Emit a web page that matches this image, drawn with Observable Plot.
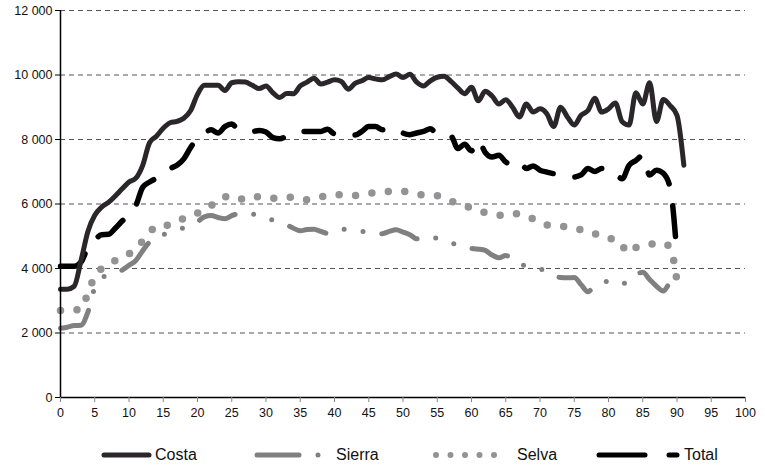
<!DOCTYPE html>
<html><head><meta charset="utf-8">
<script src="https://cdn.jsdelivr.net/npm/d3@7"></script>
<script src="https://cdn.jsdelivr.net/npm/@observablehq/plot@0.6"></script>
<style>
body{margin:0;background:#fff;font-family:"Liberation Sans",Arial,sans-serif;}
#wrap{position:relative;width:765px;height:466px;overflow:hidden;}
#legend{position:absolute;left:0;top:444px;width:765px;height:22px;}
.item{position:absolute;top:0;height:22px;display:flex;align-items:center;font-size:16px;color:#111;font-family:"Liberation Sans Narrow","Liberation Sans",Arial,sans-serif;}
.item svg{display:block;}
</style></head><body>
<div id="wrap"><div id="chart"></div><div id="legend"></div></div>
<script>
// x = index (0, 1, 2, ...)
const costa = [3360,3360,3450,4250,5150,5650,5900,6050,6250,6470,
  6680,6800,7200,7900,8100,8350,8520,8560,8660,8900,
  9400,9680,9680,9680,9520,9760,9790,9780,9680,9580,
  9660,9450,9300,9430,9420,9660,9780,9900,9720,9780,
  9850,9800,9560,9740,9820,9920,9880,9850,9950,10030,
  9920,10020,9780,9660,9820,9930,9960,9800,9600,9420,
  9620,9200,9500,9350,9100,9230,9000,8700,9100,8850,
  8950,8800,8400,9000,8700,8450,8750,8900,9280,8850,
  8950,9130,8550,8450,9450,9100,9760,8560,9240,9050,
  8750,7200];
const sierra = [2150,2180,2230,2240,2650,3400,3700,3800,3870,3950,
  4100,4250,4550,4820,4980,5050,5120,5190,5260,5340,
  5450,5600,5640,5580,5540,5640,5700,5730,5700,5600,
  5570,5500,5430,5350,5250,5170,5210,5220,5150,5090,
  5150,5220,5200,5170,5150,5110,5070,5080,5150,5200,
  5130,5050,4920,4950,4990,4930,4870,4800,4720,4640,
  4620,4600,4560,4420,4330,4400,4300,4120,4090,4070,
  4000,3880,3760,3720,3710,3720,3500,3280,3480,3560,
  3600,3550,3500,3700,3820,3880,3660,3450,3300,3550,
  3600];
const selva = [2700,2710,2720,2730,3240,3750,4000,4150,4250,4330,
  4450,4650,4850,5100,5320,5340,5350,5450,5550,5630,
  5720,5800,5950,6150,6220,6260,6200,6120,6180,6230,
  6210,6180,6190,6210,6200,6170,6130,6170,6220,6250,
  6270,6290,6280,6260,6290,6330,6350,6370,6390,6390,
  6390,6360,6310,6280,6270,6260,6200,6100,6000,5940,
  5880,5800,5730,5690,5650,5690,5710,5680,5640,5540,
  5450,5350,5340,5320,5280,5230,5200,5160,5080,4960,
  4930,4910,4700,4480,4650,4720,4750,4780,4780,4650,
  3600];
const total = [4070,4070,4070,4200,4650,4880,5050,5060,5250,5470,
  5650,5950,6520,6680,6800,6950,7100,7200,7400,7750,
  8050,8200,8300,8200,8400,8480,8300,8270,8250,8280,
  8230,8060,8020,8100,8180,8250,8250,8250,8250,8320,
  8180,8200,8180,8140,8250,8400,8400,8300,8300,8330,
  8200,8150,8200,8250,8330,8150,8080,8100,7720,7850,
  7650,7980,7600,7460,7510,7300,7220,7320,7100,7180,
  7050,6990,6940,6900,6870,6840,6900,7100,7010,7100,
  7100,6950,6780,7200,7350,7500,6900,7050,6950,6500,
  4400];
const seriesNames = ["Costa","Sierra","Selva","Total"];
const xTicks = [0,5,10,15,20,25,30,35,40,45,50,55,60,65,70,75,80,85,90,95,100];
const yTicks = [0,2000,4000,6000,8000,10000,12000];

const colors = {Costa:"#2b2629", Sierra:"#808080", Selva:"#939395", Total:"#000000"};
const styles = {
  Costa:{strokeWidth:5, strokeDasharray:null},
  Sierra:{strokeWidth:5, strokeDasharray:"38,19,0,19,0,19"},
  Selva:{strokeWidth:7.5, strokeDasharray:"0,16.5"},
  Total:{strokeWidth:5.5, strokeDasharray:"31,22"}
};
const dataBy = {Costa:costa, Sierra:sierra, Selva:selva, Total:total};
const fmt = d3.formatLocale({thousands:"\u00a0", grouping:[3], decimal:","}).format(",");

function line(name){
  const s = styles[name];
  const opts = {x:(d,i)=>i, y:d=>d, stroke:colors[name], strokeWidth:s.strokeWidth,
    strokeLinecap:"round", strokeLinejoin:"round", curve:"monotone-x"};
  if (s.strokeDasharray) opts.strokeDasharray = s.strokeDasharray;
  return Plot.lineY(dataBy[name], opts);
}

const chart = Plot.plot({
  width:765, height:425,
  marginLeft:60, marginRight:20, marginTop:10, marginBottom:28,
  style:{fontFamily:"'Liberation Sans', Arial, sans-serif", fontSize:"12.5px", color:"#111", background:"#fff"},
  x:{domain:[0,100]},
  y:{domain:[0,12000]},
  marks:[
    Plot.ruleY(yTicks.filter(d=>d>0), {stroke:"#555", strokeWidth:1, strokeDasharray:"5,4"}),
    line("Selva"),
    line("Sierra"),
    line("Total"),
    line("Costa"),
    Plot.ruleY([0], {stroke:"#000", strokeWidth:1.5}),
    Plot.ruleX([0], {stroke:"#000", strokeWidth:1.5}),
    Plot.axisX({ticks:xTicks, tickSize:5, tickPadding:6, stroke:"#888", label:null, tickFormat:d=>String(d)}),
    Plot.axisY({ticks:yTicks, tickSize:5, tickPadding:3, stroke:"#000", label:null, tickFormat:fmt})
  ]
});
document.getElementById("chart").appendChild(chart);

// legend
const legendPos = {Costa:[101,155], Sierra:[254,336], Selva:[433,517], Total:[596,684]};
const legend = document.getElementById("legend");
const ns = "http://www.w3.org/2000/svg";
for (const name of seriesNames){
  const [sx, tx] = legendPos[name];
  const sw = document.createElementNS(ns,"svg");
  const w = tx - sx - 3;
  sw.setAttribute("width", w); sw.setAttribute("height", 22);
  sw.style.position="absolute"; sw.style.left = sx+"px"; sw.style.top="0px";
  const l = document.createElementNS(ns,"line");
  l.setAttribute("x1", 3); l.setAttribute("x2", w-3);
  l.setAttribute("y1", 11); l.setAttribute("y2", 11);
  l.setAttribute("stroke", colors[name]);
  l.setAttribute("stroke-linecap","round");
  if (name==="Costa"){ l.setAttribute("stroke-width",5); l.setAttribute("x2", 48); }
  if (name==="Sierra"){ l.setAttribute("stroke-width",5); l.setAttribute("stroke-dasharray","42,19,0,100"); }
  if (name==="Selva"){ l.setAttribute("stroke-width",6); l.setAttribute("stroke-dasharray","0,14.5"); l.setAttribute("x2", 75); }
  if (name==="Total"){ l.setAttribute("stroke-width",5); l.setAttribute("stroke-dasharray","46,24,8,100"); }
  sw.appendChild(l);
  legend.appendChild(sw);
  const t = document.createElement("div");
  t.className="item"; t.style.left = tx+"px"; t.textContent = name;
  legend.appendChild(t);
}
</script>
</body></html>
